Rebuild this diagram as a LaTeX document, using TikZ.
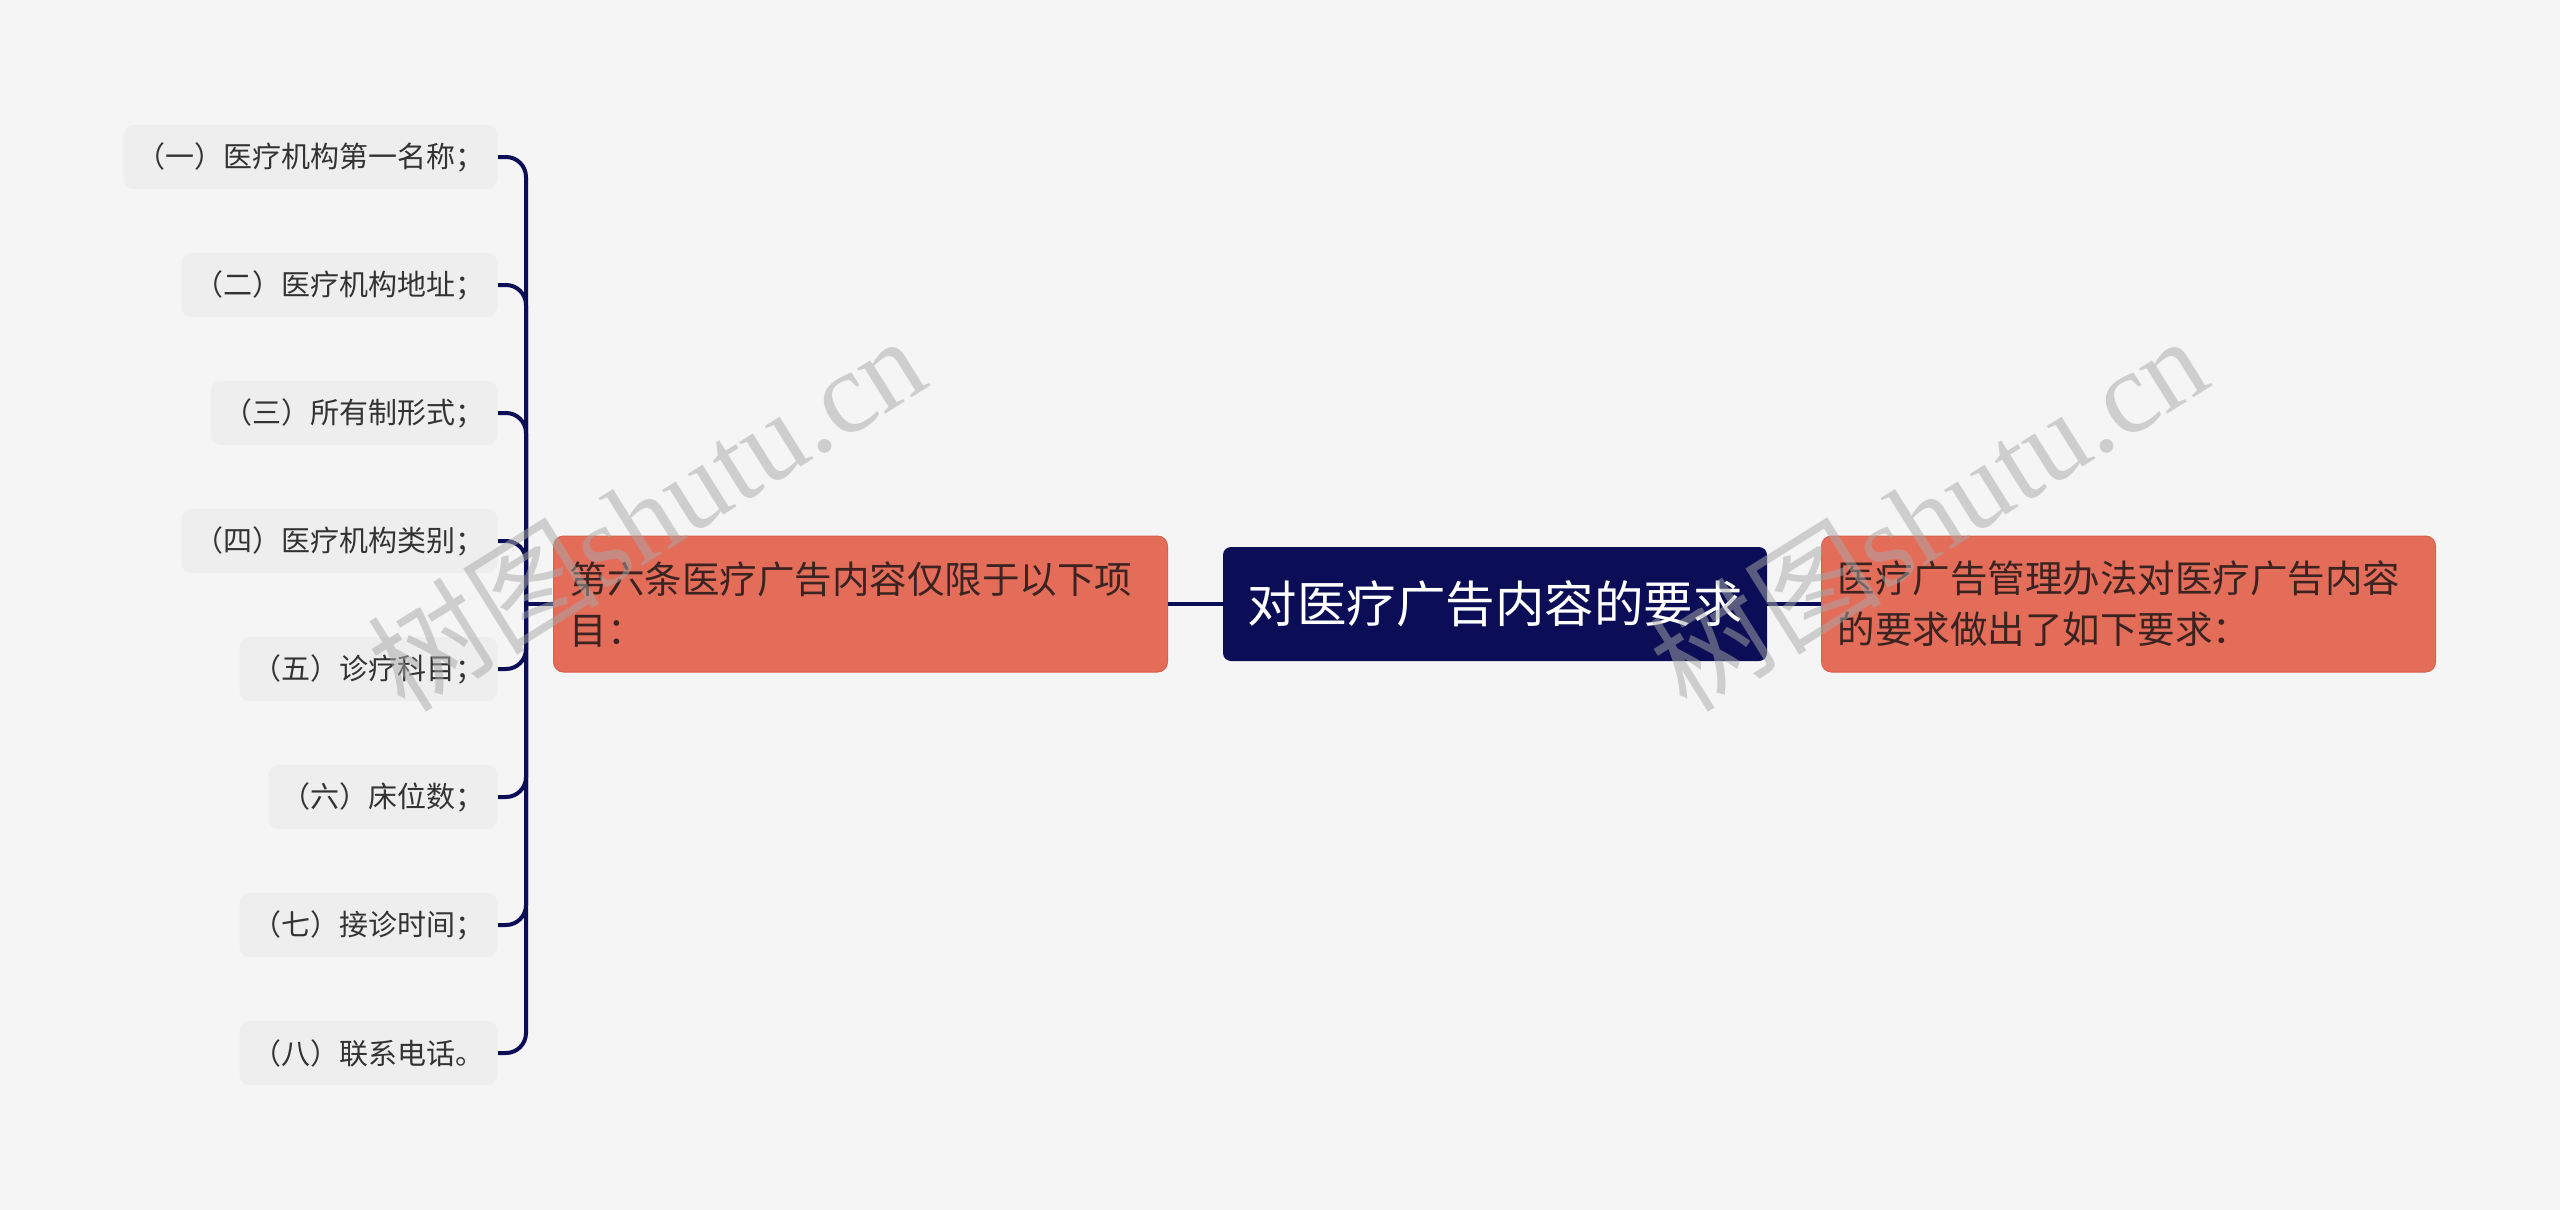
\documentclass[tikz,border=0pt]{standalone}
\usepackage{fontspec}
\newfontfamily\cjk{Noto Sans CJK SC}
\newfontfamily\wmlat{Liberation Serif}
\definecolor{bg}{HTML}{F5F5F5}
\definecolor{leafbg}{HTML}{EEEEEE}
\definecolor{leaftext}{HTML}{333333}
\definecolor{navy}{HTML}{0B0E57}
\definecolor{coral}{HTML}{E46D5A}
\definecolor{coraldark}{HTML}{D8604D}
\definecolor{coraltext}{HTML}{3A2320}
\definecolor{wmgray}{HTML}{A8A8A8}
\tikzset{
  leaf/.style={fill=leafbg, rounded corners=5pt, minimum height=32pt, inner xsep=6.5pt, inner ysep=0pt,
    font=\cjk\fontsize{14.5}{17}\selectfont, text=leaftext, anchor=east},
  topic/.style={fill=coral, draw=coraldark, line width=0.5pt, rounded corners=5pt, minimum width=307pt,
    minimum height=68pt, text width=291pt, inner xsep=8pt, align=left, anchor=west,
    font=\cjk\fontsize{18.75}{25.5}\selectfont, text=coraltext},
  rootbox/.style={fill=navy, rounded corners=4pt, minimum width=272pt, minimum height=57pt, inner xsep=0pt,
    font=\cjk\fontsize{24.75}{30}\selectfont, text=white},
  conn/.style={draw=navy, line width=2pt},
  wm/.style={text=wmgray, opacity=0.5, font=\wmlat\fontsize{58}{60}\selectfont, rotate=32}
}
\begin{document}
\begin{tikzpicture}[x=0.5pt,y=-0.5pt]
\fill[bg] (0,0) rectangle (2560,1210);
\useasboundingbox (0,0) rectangle (2560,1210);

\node[leaf] (l1) at (498,157) {（一）医疗机构第一名称；};
\node[leaf] (l2) at (498,285) {（二）医疗机构地址；};
\node[leaf] (l3) at (498,413) {（三）所有制形式；};
\node[leaf] (l4) at (498,541) {（四）医疗机构类别；};
\node[leaf] (l5) at (498,669) {（五）诊疗科目；};
\node[leaf] (l6) at (498,797) {（六）床位数；};
\node[leaf] (l7) at (498,925) {（七）接诊时间；};
\node[leaf] (l8) at (498,1053) {（八）联系电话。};

\node[topic] (mid) at (553,604) {第六条医疗广告内容仅限于以下项\\目：};
\node[rootbox] (root) at (1495,604) {对医疗广告内容的要求};
\node[topic] (right) at (1821,604) {医疗广告管理办法对医疗广告内容\\的要求做出了如下要求：};

\coordinate (jn) at (526,604);
\draw[conn] (jn) -- (mid.west);
\draw[conn] (mid.east) -- (root.west);
\draw[conn] (root.east) -- (right.west);
\foreach \i in {1,...,8} {
  \draw[conn, rounded corners=10pt] (jn) |- (l\i.east);
}

\node[wm] (wm1) at (646,512) {{\cjk 树图}shutu.cn};
\node[wm] (wm2) at (1928,512) {{\cjk 树图}shutu.cn};
\end{tikzpicture}
\end{document}
